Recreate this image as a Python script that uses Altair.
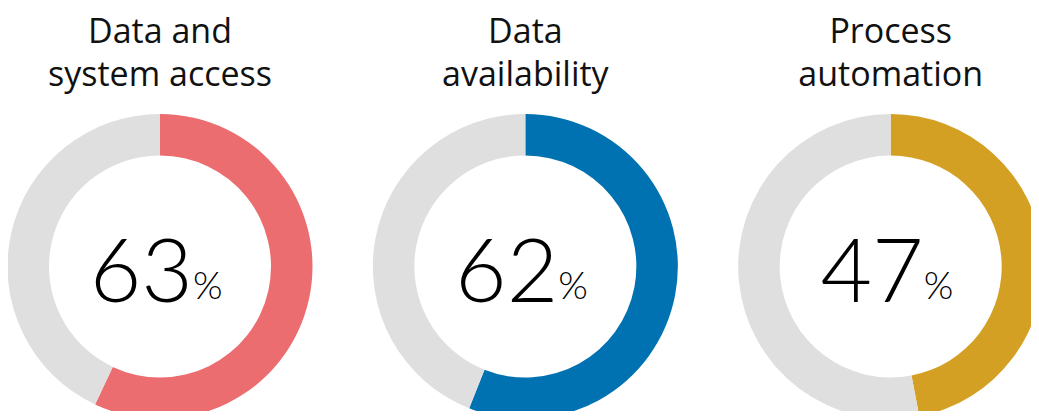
import math
import altair as alt
import pandas as pd

categories = ["Data and\nsystem access", "Data\navailability", "Process\nautomation"]
label_values = [63, 62, 47]
arc_values = [57, 56, 47]
colors = ["#EC6D6F", "#0072B1", "#D4A023"]
rest_color = "#DFDFDF"

keys = [f"c{i}" for i in range(len(categories))]

rows = []
for k, cat, v in zip(keys, categories, arc_values):
    rows.append({"key": k, "title": cat, "part": k, "start": 0, "end": v})
    rows.append({"key": k, "title": cat, "part": "rest", "start": v, "end": 100})
arcs_df = pd.DataFrame(rows)

labels_df = pd.DataFrame({
    "key": keys,
    "title": categories,
    "num": [str(v) for v in label_values],
    "pct": ["%"] * len(keys),
})

xscale = alt.Scale(type="point", domain=keys, range=[152, 882.7], padding=0)
X = alt.X("key:N", scale=xscale, axis=None)

arcs = alt.Chart(arcs_df).mark_arc(radius=152.5, radius2=111).encode(
    x=X,
    y=alt.value(258.5),
    theta=alt.Theta("start:Q", stack=None, scale=alt.Scale(domain=[0, 100], range=[0, 2 * math.pi])),
    theta2="end:Q",
    color=alt.Color("part:N", scale=alt.Scale(domain=keys + ["rest"], range=colors + [rest_color]), legend=None),
)

titles = alt.Chart(labels_df).mark_text(
    font="Open Sans", fontSize=34, lineBreak="\n", lineHeight=43,
    baseline="alphabetic", align="center", color="#111111",
).encode(x=X, y=alt.value(35), text="title:N")

nums = alt.Chart(labels_df).mark_text(
    font="Lato", fontSize=89, fontWeight=300, baseline="alphabetic", align="right",
    dx=33, color="#000000",
).encode(x=X, y=alt.value(294), text="num:N")

pcts = alt.Chart(labels_df).mark_text(
    font="Lato", fontSize=38, fontWeight=300, baseline="alphabetic", align="left",
    dx=33, color="#000000",
).encode(x=X, y=alt.value(291), text="pct:N")

chart = alt.layer(arcs, titles, nums, pcts).properties(
    width=1023, height=403, autosize=alt.AutoSizeParams(type="none"), padding=0,
).configure_view(stroke=None)

chart.save("out.html", embed_options={"renderer": "svg", "actions": False})
